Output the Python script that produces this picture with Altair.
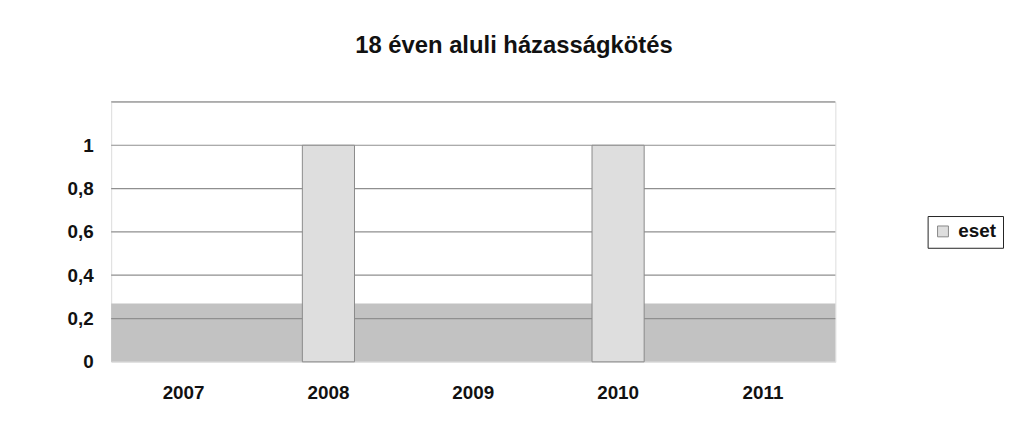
import altair as alt
import pandas as pd

years = ["2007", "2008", "2009", "2010", "2011"]
values = [0, 1, 0, 1, 0]
series = "eset"
y_ticks = [0, 0.2, 0.4, 0.6, 0.8, 1.0]
grid_levels = [0.2, 0.4, 0.6, 0.8, 1.0, 1.2]
floor_bottom = [0]
floor_top = [0.27]

df = pd.DataFrame({"year": years, "value": values, "series": [series] * len(years)})
grid_df = pd.DataFrame({"g": grid_levels})
floor_df = pd.DataFrame({"bottom": floor_bottom, "top": floor_top})

FONT = "Liberation Sans"

x_enc = alt.X("year:N", sort=years,
              scale=alt.Scale(domain=years, paddingInner=0.64, paddingOuter=0.32),
              axis=alt.Axis(title=None, labelAngle=0, labelFontSize=19, labelFontWeight="bold",
                            labelFont=FONT, labelColor="#111", domain=False, ticks=False,
                            labelPadding=22))
y_scale = alt.Scale(domain=[0, 1.2], nice=False)

floor = alt.Chart(floor_df).mark_rect(color="#c2c2c2").encode(
    y=alt.Y("bottom:Q", scale=y_scale),
    y2=alt.Y2("top:Q"),
)

grid = alt.Chart(grid_df).mark_rule(color="#8f8f8f", strokeWidth=1.2).encode(
    y=alt.Y("g:Q", scale=y_scale)
)

bars = alt.Chart(df).transform_filter("datum.value > 0").mark_bar(
    stroke="#8a8a8a", strokeWidth=1).encode(
    x=x_enc,
    y=alt.Y("value:Q", scale=y_scale,
            axis=alt.Axis(title=None, values=y_ticks, grid=False, domain=False, ticks=False,
                          labelFontSize=19, labelFontWeight="bold", labelFont=FONT,
                          labelColor="#111", labelPadding=18,
                          labelExpr="replace(format(datum.value, '.1~f'), '.', ',')")),
    fill=alt.Fill("series:N", scale=alt.Scale(range=["#dedede"]),
                  legend=alt.Legend(title=None, orient="none", legendX=823, legendY=115,
                                    labelFontSize=19, labelFontWeight="bold", labelFont=FONT,
                                    labelColor="#111", symbolType="square", symbolSize=120,
                                    symbolStrokeColor="#888", symbolStrokeWidth=1,
                                    labelOffset=6, strokeColor="#222", padding=6,
                                    cornerRadius=0)),
)

chart = alt.layer(floor, grid, bars).properties(
    width=730, height=262,
    autosize=alt.AutoSizeParams(type="none"),
    padding={"left": 104, "top": 93, "right": 170, "bottom": 68},
    title=alt.TitleParams("18 éven aluli házasságkötés", font=FONT, fontSize=24,
                          fontWeight="bold", color="#111", anchor="middle", offset=44, dx=41),
).configure_view(stroke="#b0b0b0", fill="#f6f6f6").configure(background="white")

chart.save("out.html", embed_options={"renderer": "svg", "actions": False})
